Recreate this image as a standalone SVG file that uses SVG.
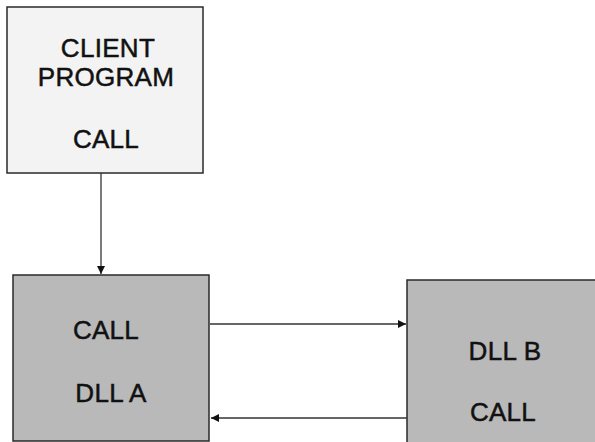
<svg xmlns="http://www.w3.org/2000/svg" width="595" height="442" viewBox="0 0 595 442">
<defs>
<style>
.box{stroke:#2a2a2a;stroke-width:1.5}
.light{fill:#f3f3f3}
.dark{fill:#b9b9b9}
.t{font-family:"Liberation Sans",Arial,sans-serif;font-size:26px;fill:#111;stroke:#111;stroke-width:0.5;text-anchor:middle;letter-spacing:0.3px}
.c{stroke:#333;stroke-width:1.3;fill:none}
</style>
<marker id="ah" viewBox="0 0 10 10" refX="10" refY="5" markerWidth="8" markerHeight="8" markerUnits="userSpaceOnUse" orient="auto">
<path d="M0,0 L10,5 L0,10 Z" fill="#111"/>
</marker>
</defs>
<rect width="595" height="442" fill="#fff"/>
<g id="client">
<rect class="box light" x="7" y="7" width="196" height="166"/>
<text class="t" x="108" y="57">CLIENT</text>
<text class="t" x="106" y="86">PROGRAM</text>
<text class="t" x="106" y="148">CALL</text>
</g>
<g id="dllA">
<rect class="box dark" x="13" y="275" width="196" height="166"/>
<text class="t" x="106" y="339">CALL</text>
<text class="t" x="111" y="402">DLL A</text>
</g>
<g id="dllB">
<rect class="box dark" x="407" y="280" width="190" height="164"/>
<text class="t" x="505" y="360">DLL B</text>
<text class="t" x="503" y="421">CALL</text>
</g>
<g id="connectors">
<line class="c" x1="101" y1="173" x2="101" y2="274" marker-end="url(#ah)"/>
<line class="c" x1="210" y1="324" x2="406" y2="324" marker-end="url(#ah)"/>
<line class="c" x1="407" y1="418" x2="211" y2="418" marker-end="url(#ah)"/>
</g>
</svg>
